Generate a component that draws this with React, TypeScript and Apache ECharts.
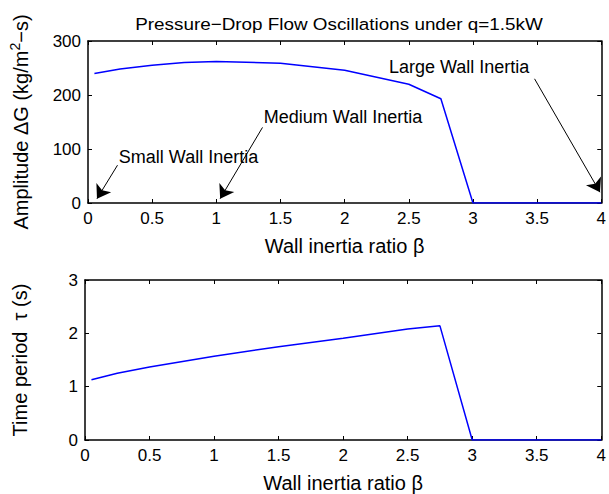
import React, { useEffect, useRef } from "react";
import * as echarts from "echarts";

const betaTop = [0.05, 0.25, 0.5, 0.75, 1, 1.5, 2, 2.5, 2.75, 3, 3.5, 4];
const amplitude = [240, 248, 255, 260, 262, 259, 246, 220, 193, 0, 0, 0];
const betaBottom = [0.05, 0.25, 0.5, 1, 1.5, 2, 2.5, 2.75, 3, 3.5, 4];
const period = [1.13, 1.25, 1.37, 1.57, 1.75, 1.91, 2.08, 2.14, 0, 0, 0];

const xTicks = ["0", "0.5", "1", "1.5", "2", "2.5", "3", "3.5", "4"];

const titleText = "Pressure−Drop Flow Oscillations under q=1.5kW";
const annotationTexts = ["Small Wall Inertia", "Medium Wall Inertia", "Large Wall Inertia"];
const annotationTextAt = [
  [0.24, 86],
  [1.37, 160],
  [2.345, 252],
];
const arrowFrom = [
  [0.23, 70],
  [1.36, 140],
  [3.48, 230],
];
const arrowTo = [
  [0.07, 8],
  [1.03, 8],
  [3.99, 20],
];

const FONT = "'Liberation Sans', Arial, Helvetica, sans-serif";

export default function App() {
  const ref = useRef<HTMLDivElement>(null);
  useEffect(() => {
    if (!ref.current) return;
    const chart = echarts.init(ref.current, undefined, { renderer: "svg" });
    const axisLine = { show: true, onZero: false, lineStyle: { color: "#000", width: 1.5 } };
    const tick = { show: true, inside: true, length: 4, lineStyle: { color: "#000", width: 1 } };
    const mkX = (gi: number, name: string) => [
      {
        type: "value",
        gridIndex: gi,
        min: 0,
        max: 4,
        interval: 0.5,
        position: "bottom",
        axisLine,
        axisTick: tick,
        splitLine: { show: false },
        axisLabel: {
          color: "#000",
          fontSize: 17,
          fontFamily: FONT,
          margin: 7,
          formatter: (v: number) => xTicks[Math.round(v / 0.5)] ?? String(v),
        },
        name,
        nameLocation: "middle",
        nameGap: 33,
        nameTextStyle: { color: "#000", fontSize: 20, fontFamily: FONT },
      },
      {
        type: "value",
        gridIndex: gi,
        min: 0,
        max: 4,
        interval: 0.5,
        position: "top",
        axisLine,
        axisTick: tick,
        splitLine: { show: false },
        axisLabel: { show: false },
      },
    ];
    const mkY = (gi: number, max: number, interval: number, name: any, rich?: any) => [
      {
        type: "value",
        gridIndex: gi,
        min: 0,
        max,
        interval,
        position: "left",
        axisLine,
        axisTick: tick,
        splitLine: { show: false },
        axisLabel: { color: "#000", fontSize: 17, fontFamily: FONT, margin: 7 },
        name,
        nameLocation: "middle",
        nameRotate: 90,
        nameGap: 55,
        nameTextStyle: { color: "#000", fontSize: 20, fontFamily: FONT, rich },
      },
      {
        type: "value",
        gridIndex: gi,
        min: 0,
        max,
        interval,
        position: "right",
        axisLine,
        axisTick: tick,
        splitLine: { show: false },
        axisLabel: { show: false },
      },
    ];
    const xs = [...mkX(0, "Wall inertia ratio β"), ...mkX(1, "Wall inertia ratio β")];
    const ys = [
      ...mkY(0, 300, 100, "Amplitude ΔG (kg/m{sup|2}−s)", {
        sup: { fontSize: 14, fontFamily: FONT, color: "#000", padding: [0, 0, 11, 0] },
      }),
      ...mkY(1, 3, 1, "Time period  τ (s)"),
    ];

    const arrowLines = arrowFrom.map((f, i) => [{ coord: f }, { coord: arrowTo[i] }]);
    const annPoints = annotationTexts.map((t, i) => ({
      coord: annotationTextAt[i],
      value: t,
    }));

    chart.setOption({
      animation: false,
      graphic: [
        {
          type: "text",
          x: 339,
          y: 24,
          scaleX: 1.11,
          silent: true,
          style: {
            text: titleText,
            fill: "#000",
            fontSize: 17,
            fontFamily: FONT,
            textAlign: "center",
            textVerticalAlign: "middle",
          },
        },
      ],
      grid: [
        { left: 85, right: 5, top: 41, height: 162 },
        { left: 85, right: 5, top: 280, height: 162 },
      ],
      xAxis: xs,
      yAxis: ys,
      series: [
        {
          type: "line",
          xAxisIndex: 0,
          yAxisIndex: 0,
          data: betaTop.map((b, i) => [b, amplitude[i]]),
          showSymbol: false,
          symbol: "none",
          lineStyle: { color: "#0000ff", width: 1.5 },
          markLine: {
            silent: true,
            symbol: ["none", "arrow"],
            symbolSize: 13,
            label: { show: false },
            lineStyle: { color: "#000", width: 1, type: "solid" },
            data: arrowLines,
          },
          markPoint: {
            silent: true,
            symbol: "circle",
            symbolSize: 0,
            label: {
              show: true,
              position: "right",
              distance: 0,
              color: "#000",
              fontSize: 18,
              fontFamily: FONT,
              formatter: (p: any) => p.value,
            },
            data: annPoints,
          },
        },
        {
          type: "line",
          xAxisIndex: 2,
          yAxisIndex: 2,
          data: betaBottom.map((b, i) => [b, period[i]]),
          showSymbol: false,
          symbol: "none",
          lineStyle: { color: "#0000ff", width: 1.5 },
        },
      ],
    });
    return () => chart.dispose();
  }, []);
  return (
    <div
      ref={ref}
      style={{ position: "fixed", left: 0, top: 0, width: 609, height: 494, background: "#fff" }}
    />
  );
}
